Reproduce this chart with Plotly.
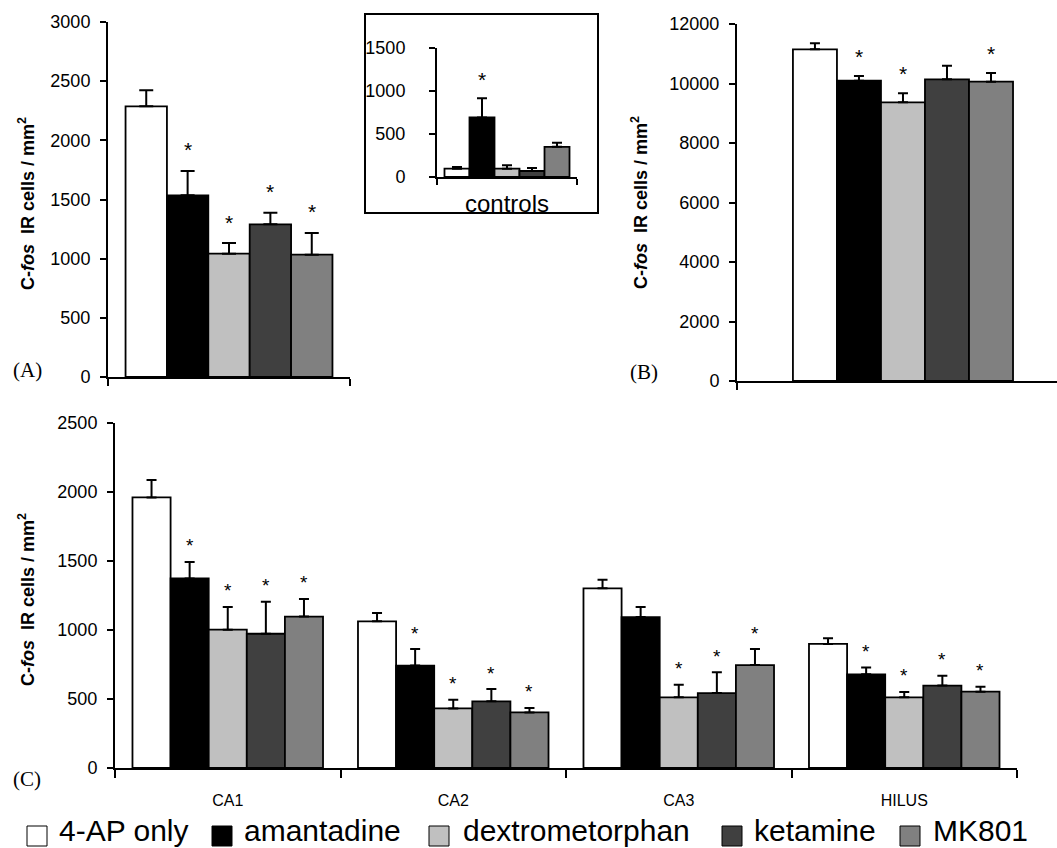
import plotly.graph_objects as go

# ---------------- data ----------------
series = ["4-AP only", "amantadine", "dextrometorphan", "ketamine", "MK801"]
colors = ["#ffffff", "#000000", "#c0c0c0", "#404040", "#808080"]

# Panel A (means, SEM, significance)
a_mean = [2287, 1535, 1042, 1290, 1034]
a_err = [136, 206, 90, 99, 183]
a_sig = [False, True, True, True, True]

# Inset: controls
ctrl_mean = [97, 693, 97, 70, 351]
ctrl_err = [20, 222, 39, 35, 47]
ctrl_sig = [False, True, False, False, False]

# Panel B
b_mean = [11148, 10095, 9367, 10140, 10062]
b_err = [202, 157, 303, 460, 291]
b_sig = [False, True, True, False, True]

# Panel C (rows = series, columns = regions)
regions = ["CA1", "CA2", "CA3", "HILUS"]
c_mean = [
    [1961, 1063, 1302, 899],
    [1374, 742, 1094, 679],
    [1002, 432, 512, 512],
    [973, 483, 543, 597],
    [1097, 403, 746, 553],
]
c_err = [
    [126, 60, 63, 41],
    [119, 120, 73, 50],
    [165, 63, 92, 39],
    [232, 89, 150, 72],
    [128, 32, 116, 36],
]
c_sig = [
    [False, False, False, False],
    [True, True, False, True],
    [True, True, True, True],
    [True, True, True, True],
    [True, True, True, True],
]

FONT = "Arial, Liberation Sans, sans-serif"
SERIF = "Times New Roman, Liberation Serif, serif"
W, H = 1057, 848

fig = go.Figure()
annotations = []


def add_panel(xa, ya, cats, means, errs, sigs, gw, cap, star_size, star_shift):
    n = len(cats)
    w = gw / len(series)
    for i, name in enumerate(series):
        off = -gw / 2 + i * w
        fig.add_bar(
            x=cats, y=means[i], xaxis=xa, yaxis=ya,
            width=w, offset=off, name=name, showlegend=False,
            marker=dict(color=colors[i], line=dict(color="black", width=1.8)),
            error_y=dict(type="data", symmetric=False, array=errs[i],
                         arrayminus=[0] * n, color="black", thickness=2, width=cap),
        )
        for j in range(n):
            if sigs[i][j]:
                annotations.append(dict(
                    x=j + off + w / 2, y=means[i][j] + errs[i][j],
                    xref=xa, yref=ya, text="*", showarrow=False,
                    yanchor="middle", yshift=star_shift,
                    font=dict(family=FONT, size=star_size, color="black")))


add_panel("x", "y", ["A"], [[v] for v in a_mean], [[v] for v in a_err],
          [[v] for v in a_sig], 0.855, 7, 21, 21)
add_panel("x2", "y2", ["controls"], [[v] for v in ctrl_mean], [[v] for v in ctrl_err],
          [[v] for v in ctrl_sig], 0.893, 5, 21, 19)
add_panel("x3", "y3", ["B"], [[v] for v in b_mean], [[v] for v in b_err],
          [[v] for v in b_sig], 0.663, 5, 21, 20)
add_panel("x4", "y4", regions, c_mean, c_err, c_sig, 0.845, 5, 19, 16)


def px_x(a, b):
    return [a / W, b / W]


def px_y(top, bottom):
    return [1 - bottom / H, 1 - top / H]


yax_common = dict(showline=True, linecolor="black", linewidth=2, ticks="outside",
                  ticklen=6, tickwidth=2, tickcolor="black", showgrid=False,
                  zeroline=False, tickfont=dict(family=FONT, size=18, color="black"),
                  fixedrange=True, automargin=False, tickformat="d")
xax_common = dict(showline=True, linecolor="black", linewidth=2, ticks="outside",
                  tickson="boundaries", ticklen=7, tickwidth=2, tickcolor="black",
                  showgrid=False, zeroline=False, fixedrange=True, automargin=False)

layout = dict(
    width=W, height=H, margin=dict(l=0, r=0, t=0, b=0, pad=0, autoexpand=False),
    paper_bgcolor="white", plot_bgcolor="white", barmode="overlay",
    showlegend=False,
    xaxis=dict(xax_common, domain=px_x(108, 350), anchor="y", range=[-0.5, 0.5],
               showticklabels=False),
    yaxis=dict(yax_common, domain=px_y(22, 377), anchor="x", range=[0, 3000],
               dtick=500, ticklabelstandoff=6),
    xaxis2=dict(xax_common, domain=px_x(437, 577), anchor="y2", range=[-0.5, 0.5],
                ticklen=6, ticklabelstandoff=4,
                tickfont=dict(family=FONT, size=24, color="black")),
    yaxis2=dict(yax_common, domain=px_y(48, 177), anchor="x2", range=[0, 1500],
                dtick=500, ticklabelstandoff=20),
    xaxis3=dict(xax_common, domain=px_x(737, 1057), anchor="y3", range=[-0.5, 0.464],
                showticklabels=False),
    yaxis3=dict(yax_common, domain=px_y(24, 381), anchor="x3", range=[0, 12000],
                dtick=2000, ticklabelstandoff=6),
    xaxis4=dict(xax_common, domain=px_x(115, 1017), anchor="y4", range=[-0.5, 3.5],
                ticklen=8, ticklabelstandoff=17,
                tickfont=dict(family=FONT, size=16, color="black")),
    yaxis4=dict(yax_common, domain=px_y(423, 768), anchor="x4", range=[0, 2500],
                dtick=500, ticklabelstandoff=6),
)

ytitle = "C-<i>fos</i>  IR cells / mm<sup>2</sup>"
for cx, cy in [(26, 204), (640, 203), (26, 600)]:
    annotations.append(dict(x=cx / W, y=1 - cy / H, xref="paper", yref="paper",
                            text="<b>" + ytitle + "</b>", textangle=-90, showarrow=False,
                            xanchor="center", yanchor="middle",
                            font=dict(family=FONT, size=18, color="black")))

for lab, cx, cy in [("(A)", 27, 370), ("(B)", 644, 372), ("(C)", 27, 779)]:
    annotations.append(dict(x=cx / W, y=1 - cy / H, xref="paper", yref="paper",
                            text=lab, showarrow=False, xanchor="center", yanchor="middle",
                            font=dict(family=SERIF, size=21, color="black")))

shapes = [dict(type="rect", xref="paper", yref="paper", x0=365 / W, x1=598 / W,
               y0=1 - 213 / H, y1=1 - 14 / H, line=dict(color="black", width=2))]

# legend built from squares + text
sq_x = [27, 212, 429, 722, 900]
txt_x = [58, 243, 462, 753, 932]
for i, name in enumerate(series):
    shapes.append(dict(type="rect", xref="paper", yref="paper",
                       x0=sq_x[i] / W, x1=(sq_x[i] + 20) / W,
                       y0=1 - 846 / H, y1=1 - 826 / H,
                       fillcolor=colors[i], line=dict(color="black", width=1)))
    annotations.append(dict(x=txt_x[i] / W, y=0, xref="paper", yref="paper",
                            text=name, showarrow=False, xanchor="left", yanchor="bottom",
                            borderpad=0,
                            font=dict(family=FONT, size=30, color="black")))

layout["annotations"] = annotations
layout["shapes"] = shapes
fig.update_layout(**layout)
fig.write_html(
    "out.html",
    config={"displayModeBar": False},
    post_script="document.body.style.margin='0';document.body.style.padding='0';",
)
